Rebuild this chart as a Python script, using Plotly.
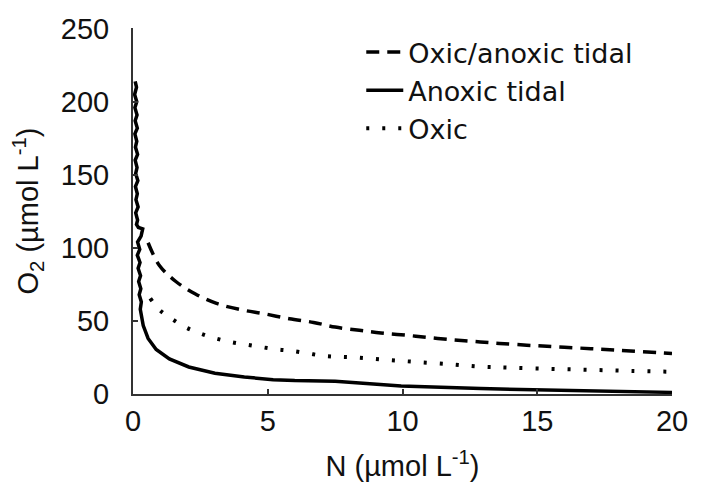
import plotly.graph_objects as go

# Oxic/anoxic tidal (dashed)
n_dash = [0.56, 0.98, 1.59, 2.3, 3.1, 4.0, 4.9, 5.8, 6.7, 7.5, 8.4, 9.2, 10.1, 11.0, 11.9, 12.7, 13.6, 15.0, 16.5, 18.0, 20.0]
o2_dash = [103.5, 88, 77, 68.6, 62, 57.7, 54.8, 51.5, 49, 45.8, 43.6, 41.8, 40.3, 38.6, 37, 35.9, 34.6, 33, 31.5, 30, 27.7]

# Anoxic tidal (solid) - noisy near the axis
n_solid = [0.08, 0.13, 0.06, 0.14, 0.07, 0.15, 0.08, 0.16, 0.07, 0.14, 0.09, 0.17, 0.08, 0.15, 0.10, 0.18,
           0.09, 0.16, 0.11, 0.19, 0.10, 0.17, 0.13, 0.20, 0.36, 0.30, 0.17, 0.25, 0.16, 0.26, 0.19, 0.28,
           0.21, 0.29, 0.23, 0.31, 0.27, 0.38, 0.56, 0.86, 1.35, 2.07, 3.04, 4.13, 5.2, 6.0, 7.5, 9.95,
           12.9, 14.0, 17.0, 20.0]
o2_solid = [214, 210, 205, 200, 196, 191, 187, 182, 178, 173, 169, 164, 160, 155, 151, 146,
            142, 137, 133, 128, 124, 119, 116, 114, 113, 108, 104, 99, 95, 90, 86, 81,
            77, 72, 68, 63, 58, 46.8, 38, 30.5, 24, 18.5, 14.2, 11.6, 9.8, 9.2, 8.7, 5.4,
            3.7, 3.3, 2.2, 1.1]

# Oxic (dotted)
n_dot = [0.64, 1.0, 1.47, 1.97, 2.5, 3.07, 3.65, 4.22, 4.8, 5.35, 5.95, 7.1, 8.25, 9.47, 10.6, 11.8, 12.9, 14.0, 15.5, 17.0, 18.5, 20.0]
o2_dot = [65.4, 57.3, 51, 45.5, 41.4, 38, 35.5, 33.8, 32, 30.5, 29.4, 26.1, 25, 23.3, 21.8, 20.3, 18.7, 18, 17.2, 16.5, 15.8, 15.2]

x_ticks = [0, 5, 10, 15, 20]
y_ticks = [0, 50, 100, 150, 200, 250]

FONT = "Liberation Sans, Arial, sans-serif"

fig = go.Figure()
fig.add_trace(go.Scatter(x=n_dash, y=o2_dash, mode="lines", name="Oxic/anoxic tidal",
                         line=dict(color="black", width=3.5, dash="13px,8px"), line_shape="spline"))
fig.add_trace(go.Scatter(x=n_solid, y=o2_solid, mode="lines", name="Anoxic tidal",
                         line=dict(color="black", width=3.5)))
fig.add_trace(go.Scatter(x=n_dot, y=o2_dot, mode="lines", name="Oxic",
                         line=dict(color="black", width=4, dash="3px,13px"), line_shape="spline"))

# the page body has an 8px margin, so the figure is sized/margined to compensate
fig.update_layout(
    width=685, height=474,
    margin=dict(l=125, r=10, t=5, b=87),
    paper_bgcolor="white", plot_bgcolor="white",
    font=dict(family=FONT, size=29, color="#111"),
    showlegend=True,
    legend=dict(x=0.4235, y=1.0, xanchor="left", yanchor="top", itemwidth=37,
                font=dict(size=27, family="DejaVu Sans, Liberation Sans, Arial"),
                bgcolor="rgba(0,0,0,0)", tracegroupgap=0),
)
fig.update_xaxes(range=[0, 20], tickvals=x_ticks, ticktext=[str(v) for v in x_ticks],
                 showline=True, linecolor="#333", linewidth=2, ticks="inside", ticklen=5,
                 tickwidth=1.5, tickcolor="#333", showgrid=False, zeroline=False,
                 ticklabeloverflow="allow",
                 title=dict(text="N (µmol L<sup>-1</sup>)", standoff=20, font=dict(size=29)),
                 ticklabelstandoff=0)
fig.update_yaxes(range=[0, 250.5], tickvals=y_ticks, ticktext=[str(v) for v in y_ticks],
                 showline=True, linecolor="#333", linewidth=2, ticks="inside", ticklen=5,
                 tickwidth=1.5, tickcolor="#333", showgrid=False, zeroline=False,
                 ticklabeloverflow="allow",
                 title=dict(text="O<sub>2</sub> (µmol L<sup>-1</sup>)", standoff=22, font=dict(size=29)),
                 ticklabelstandoff=16)

fig.write_html("out.html")
